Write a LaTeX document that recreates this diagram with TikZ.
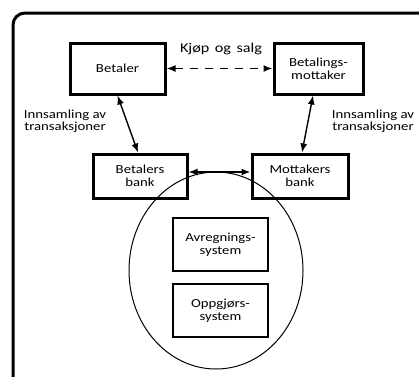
\documentclass[tikz,border=0pt]{standalone}
\usepackage{fontspec}
\setmainfont[FakeStretch=1.2]{Carlito}
\usetikzlibrary{arrows.meta,shapes.geometric}
\newcommand{\kjopfont}{\fontsize{13.5}{15}\selectfont\spaceskip=5.5pt plus 1pt\relax}
\tikzset{
  thickbox/.style={draw, line width=3pt, inner sep=0pt, align=center, text=black,
    font=\fontsize{12.3}{13}\selectfont},
  thinbox/.style={draw, line width=2pt, inner sep=0pt, align=center, text=black,
    font=\fontsize{12.3}{13}\selectfont},
  lbl/.style={align=center, inner sep=0pt, text=black, font=\fontsize{12.3}{12}\selectfont},
  dbl/.style={{Latex[length=9pt,width=7pt]}-{Latex[length=9pt,width=7pt]}, line width=1.4pt},
}
\begin{document}
\begin{tikzpicture}[x=1pt,y=-1pt]
\useasboundingbox (0,0) rectangle (419,376);
\begin{scope}
\clip (0,0) rectangle (419,376);
\draw[line width=3pt, rounded corners=12pt] (13,13) rectangle (440,400);
\end{scope}

\node[thickbox, minimum width=95pt, minimum height=51pt] (betaler) at (117.5,68.5) {Betaler};
\node[thickbox, minimum width=89pt, minimum height=51pt] (mottaker) at (318.5,68.5) {Betalings-\\mottaker};
\node[thickbox, minimum width=94pt, minimum height=44pt] (bbank) at (140,176) {Betalers\\bank};
\node[thickbox, minimum width=96pt, minimum height=44pt] (mbank) at (300,176) {Mottakers\\bank};
\node[thinbox, minimum width=95pt, minimum height=53pt] (avr) at (220.5,244.5) {Avregnings-\\system};
\node[thinbox, minimum width=95pt, minimum height=53pt] (opp) at (220.5,310.5) {Oppgjørs-\\system};
\node[draw, ellipse, line width=1pt, minimum width=174pt, minimum height=197pt, inner sep=0pt] (sys) at (216,270.5) {};

\node[lbl, anchor=base, font=\kjopfont] (kjop) at (221,52) {Kjøp og salg};
\node[lbl] (innl) at (65,121) {Innsamling av\\transaksjoner};
\node[lbl] (innr) at (373,121) {Innsamling av\\transaksjoner};

\draw[dbl, line width=1.6pt, dash pattern=on 8pt off 7pt] (betaler.east) -- (mottaker.west);
\draw[dbl] (betaler.south) -- ([xshift=-2pt]bbank.north);
\draw[dbl] ([xshift=-5.5pt]mottaker.south) -- ([xshift=2pt]mbank.north);
\draw[dbl] ([yshift=4pt]bbank.east) -- ([yshift=4pt]mbank.west);
\end{tikzpicture}
\end{document}
